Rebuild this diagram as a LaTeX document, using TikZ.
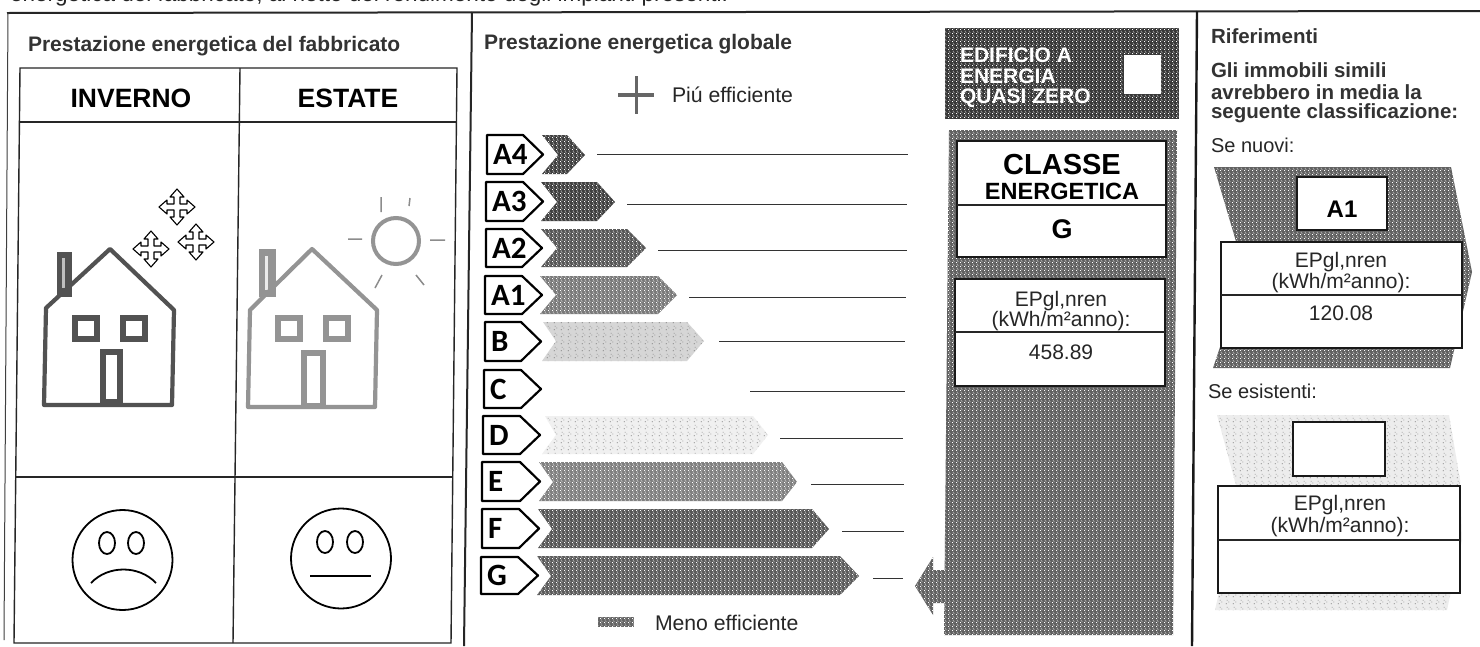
\documentclass[tikz,border=0pt]{standalone}
\usepackage{fontspec}
\setmainfont{Liberation Sans}
\newfontfamily\classfont{Carlito}
\usetikzlibrary{patterns}
\newcommand{\fsz}[1]{\fontsize{#1}{#1}\selectfont}
\pgfdeclarepatternformonly{grit}{\pgfpointorigin}{\pgfpoint{4pt}{4pt}}{\pgfpoint{4pt}{4pt}}{
  \pgfpathrectangle{\pgfpoint{0pt}{0pt}}{\pgfpoint{1pt}{1pt}}
  \pgfpathrectangle{\pgfpoint{2pt}{1pt}}{\pgfpoint{1pt}{1pt}}
  \pgfpathrectangle{\pgfpoint{1pt}{3pt}}{\pgfpoint{1pt}{1pt}}
  \pgfusepath{fill}}
\pgfdeclarepatternformonly{sparse}{\pgfpointorigin}{\pgfpoint{7pt}{7pt}}{\pgfpoint{7pt}{7pt}}{
  \pgfpathrectangle{\pgfpoint{1pt}{1pt}}{\pgfpoint{0.8pt}{0.8pt}}
  \pgfpathrectangle{\pgfpoint{4pt}{3pt}}{\pgfpoint{0.8pt}{0.8pt}}
  \pgfpathrectangle{\pgfpoint{2pt}{5pt}}{\pgfpoint{0.8pt}{0.8pt}}
  \pgfusepath{fill}}
\tikzset{
  x=1pt,y=-1pt,
  frameline/.style={line width=2pt,black!85},
  tabline/.style={line width=1.4pt,black!85},
  boxw/.style={draw=black!90,line width=1.5pt,fill=white},
  txt/.style={inner sep=0pt,outer sep=0pt,black!85},
  title/.style={txt,anchor=west,font=\fsz{21}\bfseries,black!80},
  subt/.style={txt,anchor=west,font=\fsz{20.5}\bfseries,black!80},
  plain/.style={txt,anchor=west,font=\fsz{20}},
  ep/.style={txt,font=\fsz{21},align=center},
  label/.style={draw=black,line width=2.2pt,fill=white,line join=round},
  clabel/.style={txt,font=\classfont\fsz{31}\bfseries,black},
  lev/.style={line width=1pt,black!80},
  wall/.style={line width=4.2pt,line join=round,draw=#1},
  dith/.style={fill=black!#1,postaction={pattern=grit,pattern color=white}},
  dots/.style={fill=black!#1,postaction={pattern=sparse,pattern color=black!70}},
  pics/flake/.style={code={
    \draw[line width=1.1pt,black,fill=white,line join=round]
      (-3,-3)--(-3,-10)--(-7,-10)--(0,-18)--(7,-10)--(3,-10)--(3,-3)
      --(10,-3)--(10,-7)--(18,0)--(10,7)--(10,3)--(3,3)
      --(3,10)--(7,10)--(0,18)--(-7,10)--(-3,10)--(-3,3)
      --(-10,3)--(-10,7)--(-18,0)--(-10,-7)--(-10,-3)--cycle;
  }},
}
\colorlet{cwin}{black!68}
\colorlet{csum}{black!42}
\begin{document}
\begin{tikzpicture}
\useasboundingbox (0,0) rectangle (1480,646);
\fill[white] (0,0) rectangle (1480,646);
% clipped line at top
\node[txt,anchor=base west,font=\fsz{22.5}] (cut) at (10,1) {energetica del fabbricato, al netto del rendimento degli impianti presenti.};
% frame
\draw[frameline] (7,13)--(1480,11);
\draw[line width=1pt,black!75] (8,13)--(4,640);
\draw[frameline] (472,12)--(464,646);
\draw[line width=2.4pt,black!90] (1197,11)--(1192,646);
% left table
\draw[tabline] (20,68)--(457,68)--(451,643)--(14,643)--cycle;
\draw[tabline] (240,68)--(233,643);
\draw[tabline] (20,122)--(457,122);
\draw[tabline] (16,477)--(452,477);
\node[title] (t1) at (28,46) {Prestazione energetica del fabbricato};
\node[txt,font=\fsz{26.5}\bfseries,black] (inv) at (131,98) {INVERNO};
\node[txt,font=\fsz{26.5}\bfseries,black] (est) at (348,98) {ESTATE};
% winter house
\fill[cwin] (57,252) rectangle (72,297);
\fill[black!25] (62,258) rectangle (65,288);
\draw[wall=cwin] (44,405)--(46,308)--(110,249)--(174,310)--(172,405)--cycle;
\draw[cwin,line width=6pt] (75,318) rectangle (97,339);
\draw[cwin,line width=6pt] (123,318) rectangle (145,339);
\draw[cwin,line width=6pt] (103,352) rectangle (120,402);
% snow
\pic at (177,207) {flake};
\pic at (151,249) {flake};
\pic at (196,242) {flake};
% summer house
\fill[csum] (259,249) rectangle (276,297);
\fill[black!8] (265,256) rectangle (268,290);
\draw[wall=csum] (248,407)--(250,310)--(312,249)--(377,310)--(375,407)--cycle;
\draw[csum,line width=6pt] (278,318) rectangle (300,339);
\draw[csum,line width=6pt] (326,318) rectangle (348,339);
\draw[csum,line width=6pt] (304,353) rectangle (323,406);
% sun
\draw[csum,line width=4pt] (396,241) circle (23);
\draw[black!45,line width=1.5pt] (381,197)--(381,212) (410,198)--(409,206)
  (348,239)--(362,239) (430,240)--(445,240)
  (382,275)--(375,288) (416,275)--(424,285);
% smileys
\draw[line width=1.8pt,black] (122.5,560) circle (50);
\draw[line width=1.8pt,black] (107,543) ellipse (8 and 11);
\draw[line width=1.8pt,black] (136,543) ellipse (8 and 11);
\draw[line width=1.8pt,black] (91,583) .. controls (108,565) and (139,565) .. (156,583);
\draw[line width=1.8pt,black] (341,558.5) circle (50);
\draw[line width=1.8pt,black] (325,542) ellipse (8 and 11);
\draw[line width=1.8pt,black] (355,542) ellipse (8 and 11);
\draw[line width=1.8pt,black] (310,576)--(371,576);
% middle
\node[title] (t2) at (484,44) {Prestazione energetica globale};
\fill[black!60] (634.5,76) rectangle (637.5,114);
\fill[black!60] (618,93) rectangle (654,97);
\node[txt,anchor=west,font=\fsz{21.2}] (piu) at (672,95) {Piú efficiente};
\path[dith=60] (598,617) rectangle (634,627);
\node[txt,anchor=west,font=\fsz{21.2}] (meno) at (655,623) {Meno efficiente};
% arrows
\path[dith=75] (542,135)--(567,135)--(585,155)--(567,174)--(542,174)--(558,155)--cycle;
\path[dith=75] (541,182)--(597,182)--(615,202)--(597,221)--(541,221)--(557,202)--cycle;
\path[dith=66] (541,229)--(627,229)--(646,248)--(627,267)--(541,267)--(557,248)--cycle;
\path[dith=52] (540,276)--(658,276)--(677,295)--(658,314)--(540,314)--(556,295)--cycle;
\path[dots=16] (543,322)--(687,322)--(704,341)--(687,361)--(542,361)--(556,341)--cycle;
\path[dots=6] (545,416)--(753,416)--(768,435)--(753,454)--(542,454)--(556,435)--cycle;
\path[dith=50] (539,462)--(782,462)--(797,482)--(782,501)--(539,501)--(553,482)--cycle;
\path[dith=66] (538,509)--(812,509)--(829,529)--(812,548)--(538,548)--(552,529)--cycle;
\path[dith=64] (537,556)--(840,556)--(859,576)--(840,595)--(537,595)--(551,576)--cycle;
% class labels
\newcommand{\classlabel}[6]{% x left, top, bottom, tip, name, text
  \draw[label] (#1,#2)--(#4-20,#2)--(#4,{(#2+#3)/2})--(#4-20,#3)--(#1,#3)--cycle;
  \node[clabel,anchor=west] (#5) at (#1+6,{(#2+#3)/2}) {#6};
}
\classlabel{487}{135}{174}{543}{la4}{A4}
\classlabel{486}{182}{221}{543}{la3}{A3}
\classlabel{486}{229}{267}{542}{la2}{A2}
\classlabel{485}{276}{314}{542}{la1}{A1}
\classlabel{485}{322}{361}{541}{lb}{B}
\classlabel{484}{370}{408}{541}{lc}{C}
\classlabel{483}{416}{454}{540}{ld}{D}
\classlabel{482}{462}{501}{540}{le}{E}
\classlabel{482}{509}{548}{539}{lf}{F}
\classlabel{481}{557}{594}{538}{lg}{G}
% level lines
\draw[lev] (597,154)--(908,154) (627,204)--(907,204) (658,250)--(907,250) (689,297)--(906,297)
 (719,341)--(905,341) (750,391)--(905,391) (780,438)--(903,438) (811,484)--(904,484)
 (842,531)--(904,531) (873,578)--(903,578);
% nearly zero box
\path[dith=78] (945,28)--(1179,28)--(1179,119)--(945,119)--cycle;
\node[txt,anchor=west,align=left,font=\fontsize{21}{20.5}\selectfont\bfseries,white] (nz) at (960,78) {EDIFICIO A\\ENERGIA\\QUASI ZERO};
\fill[white] (1124,55) rectangle (1161,94);
% column
\path[dith=62] (949,130)--(1177,130)--(1173,635)--(944,635)--cycle;
\path[dith=62] (946,570)--(933,570)--(933,557)--(915,586)--(933,615)--(933,603)--(946,603)--cycle;
\draw[boxw] (957,141) rectangle (1166,257);
\draw[tabline] (957,205)--(1166,205);
\node[txt,font=\fsz{29}\bfseries,black] (cl) at (1062,165) {CLASSE};
\node[txt,font=\fsz{23.5}\bfseries,black] (en) at (1062,191) {ENERGETICA};
\node[txt,font=\fsz{27}\bfseries,black] (cg) at (1062,229) {G};
\draw[boxw] (955,279) rectangle (1165,386);
\draw[tabline] (955,332)--(1165,332);
\node[ep] (e1) at (1061,301) {EPgl,nren};
\node[ep] (e2) at (1061,321) {(kWh/m²anno):};
\node[ep] (v1) at (1061,352) {458.89};
% right
\node[subt] (rif) at (1211,36) {Riferimenti};
\node[subt] (g1) at (1211,70) {Gli immobili simili};
\node[subt] (g2) at (1211,92) {avrebbero in media la};
\node[subt] (g3) at (1211,113) {seguente classificazione:};
\node[plain] (sn) at (1211,145) {Se nuovi:};
\path[dith=62] (1214,167)--(1451,167)--(1472,272)--(1450,368)--(1213,368)--(1245,272)--cycle;
\draw[boxw] (1297,177) rectangle (1387,230);
\node[txt,font=\fsz{24}\bfseries,black] (a1) at (1342,209) {A1};
\draw[boxw] (1221,242) rectangle (1462,348);
\draw[tabline] (1221,295)--(1462,295);
\node[ep] (e3) at (1341,262) {EPgl,nren};
\node[ep] (e4) at (1341,283) {(kWh/m²anno):};
\node[ep] (v2) at (1341,313) {120.08};
\node[plain] (se) at (1208,391) {Se esistenti:};
\path[dots=7] (1217,415)--(1449,415)--(1460,480)--(1462,540)--(1447,610)--(1215,610)--(1240,500)--cycle;
\draw[boxw] (1293,422) rectangle (1385,476);
\draw[boxw] (1218,486) rectangle (1460,593);
\draw[tabline] (1218,540)--(1460,540);
\node[ep] (e5) at (1340,505) {EPgl,nren};
\node[ep] (e6) at (1340,527) {(kWh/m²anno):};
\end{tikzpicture}
\end{document}
